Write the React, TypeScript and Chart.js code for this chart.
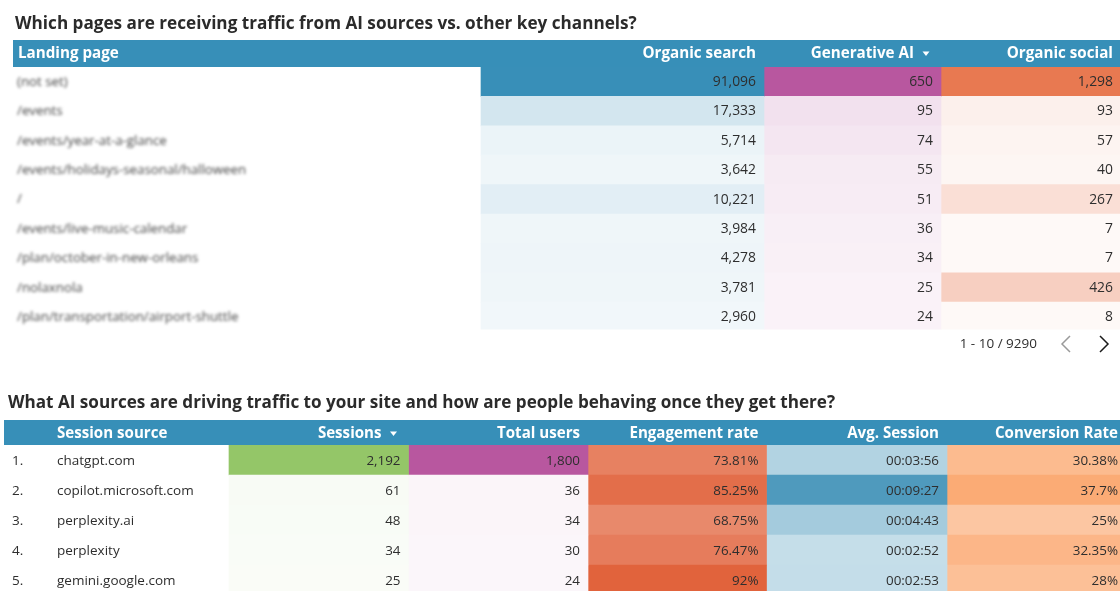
import React, { useEffect, useRef } from "react";
import { Chart, registerables } from "chart.js";

Chart.register(...registerables);

// top table
const landingPages = [
  "(not set)",
  "/events",
  "/events/year-at-a-glance",
  "/events/holidays-seasonal/halloween",
  "/",
  "/events/live-music-calendar",
  "/plan/october-in-new-orleans",
  "/nolaxnola",
  "/plan/transportation/airport-shuttle",
];
const organicSearch = [91096, 17333, 5714, 3642, 10221, 3984, 4278, 3781, 2960];
const generativeAi = [650, 95, 74, 55, 51, 36, 34, 25, 24];
const organicSocial = [1298, 93, 57, 40, 267, 7, 7, 426, 8];

// bottom table
const sessionSources = ["chatgpt.com", "copilot.microsoft.com", "perplexity.ai", "perplexity", "gemini.google.com"];
const sessions = [2192, 61, 48, 34, 25];
const totalUsers = [1800, 36, 34, 30, 24];
const engagementRate = [73.81, 85.25, 68.75, 76.47, 92];
const avgSession = ["00:03:56", "00:09:27", "00:04:43", "00:02:52", "00:02:53"];
const conversionRate = [30.38, 37.7, 25, 32.35, 28];

const FONT = '"Open Sans", sans-serif';
const HEADER_BLUE = "#378fb8";
const TEXT = "#2e2e2e";

const toSeconds = (t: string) => {
  const [h, m, s] = t.split(":").map(Number);
  return h * 3600 + m * 60 + s;
};

// mix a base colour with white, by the value's share of the column max
const shade = (base: number[], ratio: number) => {
  const a = 0.04 + 0.96 * ratio;
  const c = base.map((b) => Math.round(255 - (255 - b) * a));
  return `rgb(${c[0]},${c[1]},${c[2]})`;
};

type Column = {
  label: string;
  values: number[];
  text: (v: number, i: number) => string;
  color: number[];
  left: number;
  right: number;
  sorted?: boolean;
};

const fmt = (v: number) => v.toLocaleString("en-US");

const topColumns: Column[] = [
  { label: "Organic search", values: organicSearch, text: fmt, color: [56, 143, 184], left: 481, right: 764 },
  { label: "Generative AI", values: generativeAi, text: fmt, color: [184, 87, 159], left: 764, right: 941, sorted: true },
  { label: "Organic social", values: organicSocial, text: fmt, color: [232, 121, 81], left: 941, right: 1121 },
];

const bottomColumns: Column[] = [
  { label: "Sessions", values: sessions, text: fmt, color: [148, 198, 104], left: 229, right: 408.5, sorted: true },
  { label: "Total users", values: totalUsers, text: fmt, color: [184, 87, 159], left: 408.5, right: 588 },
  { label: "Engagement rate", values: engagementRate, text: (v) => `${v}%`, color: [225, 99, 60], left: 588, right: 766.5 },
  {
    label: "Avg. Session",
    values: avgSession.map(toSeconds),
    text: (_, i) => avgSession[i],
    color: [79, 154, 189],
    left: 766.5,
    right: 947,
  },
  { label: "Conversion Rate", values: conversionRate, text: (v) => `${v}%`, color: [251, 171, 117], left: 947, right: 1126 },
];

function buildDatasets(rows: string[], columns: Column[], clipBottom: number) {
  return columns.map((col) => {
    const max = Math.max(...col.values);
    return {
      label: col.label,
      data: rows.map((r, i) => ({ x: [col.left, col.right], y: r, v: col.values[i] })),
      backgroundColor: col.values.map((v) => shade(col.color, v / max)),
      borderWidth: 0,
      barPercentage: 1,
      categoryPercentage: 1,
      grouped: false,
      clip: { left: 0, top: 0, right: 0, bottom: clipBottom },
    };
  });
}

function makeOptions(padTop: number, padBottom: number) {
  return {
    indexAxis: "y",
    responsive: false,
    animation: false,
    parsing: { xAxisKey: "x", yAxisKey: "y" },
    layout: { padding: { top: padTop, bottom: padBottom, left: 0, right: 0 } },
    scales: {
      x: { type: "linear", min: 0, max: 1120, display: false },
      y: { type: "category", display: false },
    },
    plugins: { legend: { display: false }, tooltip: { enabled: false } },
  };
}

function caret(ctx: CanvasRenderingContext2D, x: number, y: number) {
  ctx.fillStyle = "#ffffff";
  ctx.beginPath();
  ctx.moveTo(x - 3.5, y - 2);
  ctx.lineTo(x + 3.5, y - 2);
  ctx.lineTo(x, y + 2.5);
  ctx.closePath();
  ctx.fill();
}

function chevron(ctx: CanvasRenderingContext2D, x: number, y: number, dir: number, color: string) {
  ctx.strokeStyle = color;
  ctx.lineWidth = 1.5;
  ctx.beginPath();
  ctx.moveTo(x - 4 * dir, y - 8);
  ctx.lineTo(x + 4 * dir, y);
  ctx.lineTo(x - 4 * dir, y + 8);
  ctx.stroke();
}

function headerBand(ctx: CanvasRenderingContext2D, chart: any, left: number, top: number, columns: Column[], size: number, caretGap: number, textY: number) {
  const area = chart.chartArea;
  ctx.fillStyle = HEADER_BLUE;
  ctx.fillRect(left, top, 1120 - left, area.top - top);
  ctx.font = `bold ${size}px ${FONT}`;
  ctx.textBaseline = "middle";
  ctx.textAlign = "right";
  columns.forEach((col) => {
    const x = col.right - 8 - (col.sorted ? caretGap : 0);
    ctx.fillStyle = "#ffffff";
    ctx.fillText(col.label, x, textY);
    if (col.sorted) caret(ctx, x + 12, textY - 0.5);
  });
}

function cellText(ctx: CanvasRenderingContext2D, chart: any, columns: Column[], size: number, nudge: number) {
  ctx.fillStyle = TEXT;
  ctx.font = `${size}px ${FONT}`;
  ctx.textBaseline = "middle";
  ctx.textAlign = "right";
  columns.forEach((col, d) => {
    chart.getDatasetMeta(d).data.forEach((bar: any, i: number) => {
      ctx.fillText(col.text(col.values[i], i), col.right - 8, bar.y + nudge);
    });
  });
}

const topPlugin = {
  id: "topTable",
  afterDatasetsDraw(chart: any) {
    const { ctx } = chart;
    ctx.save();
    ctx.fillStyle = "#2b2b2b";
    ctx.font = `bold 17.15px ${FONT}`;
    ctx.textBaseline = "middle";
    ctx.textAlign = "left";
    ctx.fillText("Which pages are receiving traffic from AI sources vs. other key channels?", 15, 24);

    headerBand(ctx, chart, 13, 40, topColumns, 15.2, 19, 54);
    ctx.fillStyle = "#ffffff";
    ctx.textAlign = "left";
    ctx.fillText("Landing page", 18, 54);

    cellText(ctx, chart, topColumns, 13.9, 0.3);

    // page names are blurred in the source
    const meta = chart.getDatasetMeta(0);
    ctx.filter = "blur(1.6px)";
    ctx.fillStyle = "#444444";
    ctx.font = `13.3px ${FONT}`;
    ctx.textAlign = "left";
    landingPages.forEach((p, i) => ctx.fillText(p, 17, meta.data[i].y + 0.3));
    ctx.filter = "none";

    ctx.fillStyle = TEXT;
    ctx.font = `13.5px ${FONT}`;
    ctx.textAlign = "right";
    ctx.fillText("1 - 10 / 9290", 1037, 344.5);
    chevron(ctx, 1066, 344, -1, "#9a9a9a");
    chevron(ctx, 1104, 344, 1, "#1a1a1a");
    ctx.restore();
  },
};

const bottomPlugin = {
  id: "bottomTable",
  afterDatasetsDraw(chart: any) {
    const { ctx } = chart;
    ctx.save();
    ctx.fillStyle = "#2b2b2b";
    ctx.font = `bold 17.1px ${FONT}`;
    ctx.textBaseline = "middle";
    ctx.textAlign = "left";
    ctx.fillText("What AI sources are driving traffic to your site and how are people behaving once they get there?", 8, 23.5);

    headerBand(ctx, chart, 4, 40, bottomColumns, 15.1, 19, 54);
    ctx.fillStyle = "#ffffff";
    ctx.textAlign = "left";
    ctx.fillText("Session source", 57, 54);

    cellText(ctx, chart, bottomColumns, 13.4, 1.6);

    const meta = chart.getDatasetMeta(0);
    ctx.fillStyle = TEXT;
    ctx.font = `13.5px ${FONT}`;
    ctx.textAlign = "left";
    sessionSources.forEach((s, i) => {
      ctx.fillText(`${i + 1}.`, 12, meta.data[i].y + 1.6);
      ctx.fillText(s, 57, meta.data[i].y + 1.6);
    });
    ctx.restore();
  },
};

function HeatTable({ rows, columns, plugin, top, height, padTop, padBottom, clipBottom }: any) {
  const ref = useRef<HTMLCanvasElement>(null);

  useEffect(() => {
    if (!ref.current) return;
    const chart = new Chart(ref.current, {
      type: "bar",
      data: { labels: rows, datasets: buildDatasets(rows, columns, clipBottom) as any },
      options: makeOptions(padTop, padBottom) as any,
      plugins: [plugin],
    });
    return () => chart.destroy();
  }, []);

  return (
    <canvas
      ref={ref}
      width={1120}
      height={height}
      style={{ position: "absolute", left: 0, top, width: 1120, height, display: "block" }}
    />
  );
}

export default function App() {
  return (
    <div style={{ position: "fixed", left: 0, top: 0, width: 1120, height: 591, overflow: "hidden", background: "#fff" }}>
      <HeatTable rows={landingPages} columns={topColumns} plugin={topPlugin} top={0} height={380} padTop={67} padBottom={48.4} clipBottom={-2} />
      <HeatTable rows={sessionSources} columns={bottomColumns} plugin={bottomPlugin} top={380} height={215} padTop={65} padBottom={0} clipBottom={0} />
    </div>
  );
}
